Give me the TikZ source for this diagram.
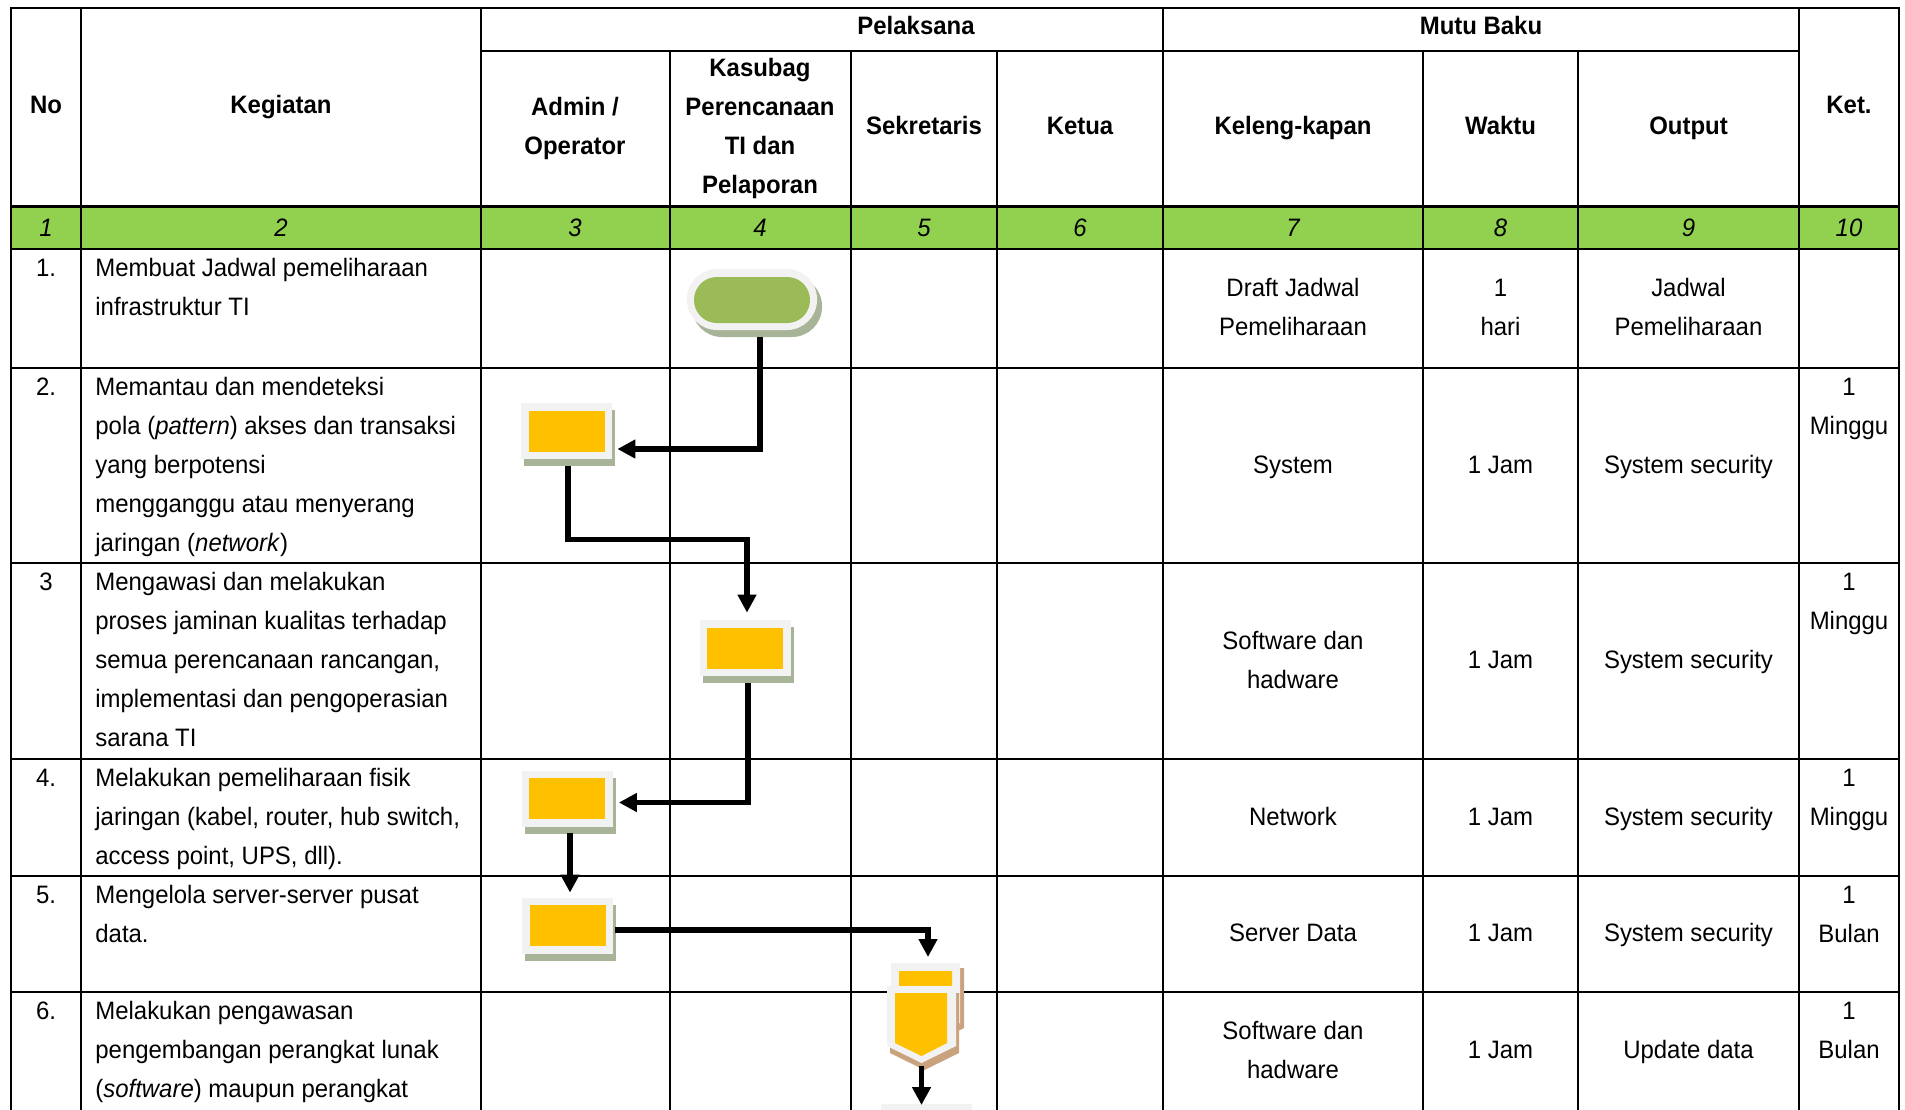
\documentclass[tikz,border=0pt]{standalone}
\usepackage{fontspec}
\setmainfont{Liberation Sans}[FakeStretch=0.95]
\usetikzlibrary{calc,arrows.meta}
\definecolor{hdrgreen}{HTML}{92D050}
\definecolor{termgreen}{HTML}{9BBB59}
\definecolor{boxorange}{HTML}{FFC000}
\definecolor{boxouter}{HTML}{F2F2F2}
\definecolor{shadowgreen}{HTML}{A8B497}
\definecolor{shadowtan}{HTML}{C9A27E}
\newcommand\tL[1]{\begin{tabular}[t]{@{}l@{}}#1\end{tabular}}
\newcommand\tCt[1]{\begin{tabular}[t]{@{}c@{}}#1\end{tabular}}
\newcommand\tC[1]{\begin{tabular}{@{}c@{}}#1\end{tabular}}
\newcommand\pbox[3]{%
  \fill[shadowgreen] (#2-42.5,#3-21) rectangle (#2+48.5,#3+35);
  \node[pouter] (#1) at (#2,#3) {};
  \fill[boxorange] (#2-38,#3-20.5) rectangle (#2+38,#3+20.5);
}
\begin{document}
\begin{tikzpicture}[x=0.5pt,y=-0.5pt,
  txt/.style={inner sep=0pt,font=\fontsize{12.6pt}{19.5pt}\selectfont},
  hd/.style={inner sep=0pt,font=\fontsize{12.6pt}{19.5pt}\selectfont\bfseries},
  gnum/.style={inner sep=0pt,font=\fontsize{12.6pt}{19.5pt}\selectfont\itshape},
  grid/.style={line width=1.3pt,line cap=rect},
  flow/.style={line width=2.6pt,-{Triangle[length=9pt,width=9pt]}},
  pouter/.style={rectangle,fill=boxouter,minimum width=45.5pt,minimum height=28pt,inner sep=0pt},
  tout/.style={rectangle,fill=boxouter,rounded corners=15pt,minimum width=65pt,minimum height=30.5pt,inner sep=0pt}]
\useasboundingbox (0,0) rectangle (1905,1109);
\clip (0,0) rectangle (1905,1109);
% green row
\fill[hdrgreen] (11,206.5) rectangle (1899,249);
% grid lines
\draw[grid] (11,8) -- (1899,8);
\draw[grid] (481,51) -- (1799,51);
\foreach \yy in {206.5,249,368,563,759,876,992}
  \draw[grid] (11,\yy) -- (1899,\yy);
\foreach \xx in {11,81,481,1163,1799,1899}
  \draw[grid] (\xx,8) -- (\xx,1115);
\foreach \xx in {670,851,997,1423,1578}
  \draw[grid] (\xx,51) -- (\xx,1115);
% header texts
\node[hd] (hNo) at (46,106) {\tC{No}};
\node[hd] (hKeg) at (281,106) {\tC{Kegiatan}};
\node[hd] (hPel) at (916,27) {\tC{Pelaksana}};
\node[hd] (hMutu) at (1481,27) {\tC{Mutu Baku}};
\node[hd] (hKet) at (1849,106) {\tC{Ket.}};
\node[hd] (hAdm) at (575,127) {\tC{Admin /\\Operator}};
\node[hd] (hKas) at (760,127) {\tC{Kasubag\\Perencanaan\\TI dan\\Pelaporan}};
\node[hd] (hSek) at (924,127) {\tC{Sekretaris}};
\node[hd] (hKetua) at (1080,127) {\tC{Ketua}};
\node[hd] (hKel) at (1293,127) {\tC{Keleng-kapan}};
\node[hd] (hWak) at (1500.5,127) {\tC{Waktu}};
\node[hd] (hOut) at (1688.5,127) {\tC{Output}};
% green numbers
\node[gnum] (g1) at (46,228) {1};
\node[gnum] (g2) at (281,228) {2};
\node[gnum] (g3) at (575,228) {3};
\node[gnum] (g4) at (760,228) {4};
\node[gnum] (g5) at (924,228) {5};
\node[gnum] (g6) at (1080,228) {6};
\node[gnum] (g7) at (1293,228) {7};
\node[gnum] (g8) at (1500.5,228) {8};
\node[gnum] (g9) at (1688.5,228) {9};
\node[gnum] (g10) at (1849,228) {10};
% row 1
\node[txt,anchor=base] (n1) at (46,276) {1.};
\node[txt,anchor=base west] (k1) at (95,276) {\tL{Membuat Jadwal pemeliharaan\\infrastruktur TI}};
\node[txt] (l1) at (1293,308.5) {\tC{Draft Jadwal\\Pemeliharaan}};
\node[txt] (w1) at (1500.5,308.5) {\tC{1\\hari}};
\node[txt] (o1) at (1688.5,308.5) {\tC{Jadwal\\Pemeliharaan}};
% row 2
\node[txt,anchor=base] (n2) at (46,395) {2.};
\node[txt,anchor=base west] (k2) at (95,395) {\tL{Memantau dan mendeteksi\\pola (\textit{pattern}) akses dan transaksi\\yang berpotensi\\mengganggu atau menyerang\\jaringan (\textit{network})}};
\node[txt] (l2) at (1293,465.5) {\tC{System}};
\node[txt] (w2) at (1500.5,465.5) {\tC{1 Jam}};
\node[txt] (o2) at (1688.5,465.5) {\tC{System security}};
\node[txt,anchor=base] (t2) at (1849,395) {\tCt{1\\Minggu}};
% row 3
\node[txt,anchor=base] (n3) at (46,590) {3};
\node[txt,anchor=base west] (k3) at (95,590) {\tL{Mengawasi dan melakukan\\proses jaminan kualitas terhadap\\semua perencanaan rancangan,\\implementasi dan pengoperasian\\sarana TI}};
\node[txt] (l3) at (1293,661) {\tC{Software dan\\hadware}};
\node[txt] (w3) at (1500.5,661) {\tC{1 Jam}};
\node[txt] (o3) at (1688.5,661) {\tC{System security}};
\node[txt,anchor=base] (t3) at (1849,590) {\tCt{1\\Minggu}};
% row 4
\node[txt,anchor=base] (n4) at (46,786) {4.};
\node[txt,anchor=base west] (k4) at (95,786) {\tL{Melakukan pemeliharaan fisik\\jaringan (kabel, router, hub switch,\\access point, UPS, dll).}};
\node[txt] (l4) at (1293,817.5) {\tC{Network}};
\node[txt] (w4) at (1500.5,817.5) {\tC{1 Jam}};
\node[txt] (o4) at (1688.5,817.5) {\tC{System security}};
\node[txt,anchor=base] (t4) at (1849,786) {\tCt{1\\Minggu}};
% row 5
\node[txt,anchor=base] (n5) at (46,903) {5.};
\node[txt,anchor=base west] (k5) at (95,903) {\tL{Mengelola server-server pusat\\data.}};
\node[txt] (l5) at (1293,934) {\tC{Server Data}};
\node[txt] (w5) at (1500.5,934) {\tC{1 Jam}};
\node[txt] (o5) at (1688.5,934) {\tC{System security}};
\node[txt,anchor=base] (t5) at (1849,903) {\tCt{1\\Bulan}};
% row 6
\node[txt,anchor=base] (n6) at (46,1019) {6.};
\node[txt,anchor=base west] (k6) at (95,1019) {\tL{Melakukan pengawasan\\pengembangan perangkat lunak\\(\textit{software}) maupun perangkat}};
\node[txt] (l6) at (1293,1051) {\tC{Software dan\\hadware}};
\node[txt] (w6) at (1500.5,1051) {\tC{1 Jam}};
\node[txt] (o6) at (1688.5,1051) {\tC{Update data}};
\node[txt,anchor=base] (t6) at (1849,1019) {\tCt{1\\Bulan}};
% terminator
\fill[shadowgreen,rounded corners=15pt] (692,276) rectangle (822,337);
\node[tout] (T) at (752,299.5) {};
\fill[termgreen,rounded corners=11.4pt] (694,277) rectangle (810,323);
% process boxes
\pbox{B2}{566.5}{431}
\pbox{B3}{745}{648}
\pbox{B4}{567}{798.5}
\pbox{B5}{567.5}{925.5}
% off-page connector
\fill[shadowtan] (895,968) -- (964,968) -- (964,1028) -- (929.5,1045) -- (895,1028) -- cycle;
\fill[boxouter] (891,963) -- (960,963) -- (960,1023) -- (925.5,1040) -- (891,1023) -- cycle;
\fill[boxorange] (899,971) -- (952,971) -- (952,1018) -- (925.5,1031) -- (899,1018) -- cycle;
\fill[shadowtan] (890,993) -- (959,993) -- (959,1053) -- (924.5,1070) -- (890,1053) -- cycle;
\fill[boxouter] (887,986) -- (956,986) -- (956,1046) -- (921.5,1063) -- (887,1046) -- cycle;
\fill[boxorange] (895,993) -- (947,993) -- (947,1043) -- (921.5,1056) -- (895,1043) -- cycle;
\coordinate (Cin) at (928,957);
\coordinate (Cout) at (921.5,1066);
% next shape (cut off)
\fill[boxouter] (881,1104) rectangle (972,1120);
\coordinate (N) at (921.5,1105);
% connectors
\draw[flow] ($(T.south)+(8,7)$) |- ($(B2.east)+(5,18)$);
\draw[flow] ($(B2.south)+(1.5,7)$) |- ($(B3.north)+(2,-80)$) -- ($(B3.north)+(2,-7)$);
\draw[flow] ($(B3.south)+(3,7)$) |- ($(B4.east)+(6,4)$);
\draw[flow] ($(B4.south)+(3,6)$) -- ($(B5.north)+(2.5,-4.5)$);
\draw[flow] ($(B5.east)+(2,4.5)$) -| (Cin);
\draw[flow] (Cout) -- (N);
\end{tikzpicture}
\end{document}
